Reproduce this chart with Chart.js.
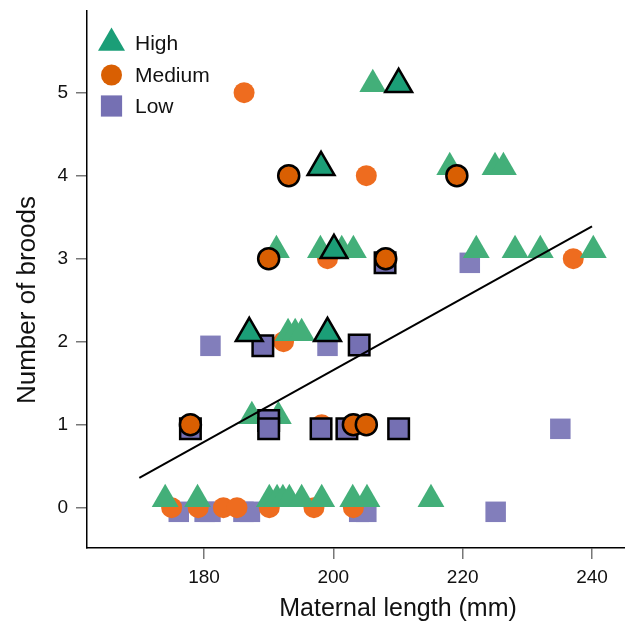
<!DOCTYPE html>
<html>
<head>
<meta charset="utf-8">
<script src="https://cdn.jsdelivr.net/npm/chart.js@4.4.1/dist/chart.umd.min.js"></script>
<style>
html, body { margin: 0; padding: 0; background: #fff; overflow: hidden; }
#wrap { width: 625px; height: 625px; }
</style>
</head>
<body>
<div id="wrap"><canvas id="c"></canvas></div>
<script>
// tick labels
var xTicks = [180, 200, 220, 240];
var yTicks = [0, 1, 2, 3, 4, 5];

// group names (legend) and axis titles
var groups = ['High', 'Medium', 'Low'];
var xTitle = 'Maternal length (mm)';
var yTitle = 'Number of broods';

// High (triangles), plain
var highX = [174, 179, 190.1, 191.3, 192.2, 193.2, 195.1, 198.2, 203, 205.2, 215.1,
             187.4, 191.5,
             193, 194.1, 195.1,
             191.2, 198, 201.3, 203.1, 222.1, 228.1, 232, 240.2,
             218, 225, 226.3,
             206.1];
var highY = [0.1, 0.1, 0.1, 0.1, 0.1, 0.1, 0.1, 0.1, 0.1, 0.1, 0.1,
             1.1, 1.1,
             2.1, 2.1, 2.1,
             3.1, 3.1, 3.1, 3.1, 3.1, 3.1, 3.1, 3.1,
             4.1, 4.1, 4.1,
             5.1];
// High, outlined
var highOutX = [187, 199.1, 200.1, 198.1, 210.1];
var highOutY = [2.1, 2.1, 3.1, 4.1, 5.1];

// Medium (circles), plain
var medX = [175, 179.1, 183, 185.1, 190.1, 197, 203.1, 198.2, 192.3, 199.1, 237.1, 205.1, 186.2];
var medY = [0, 0, 0, 0, 0, 0, 0, 1, 2, 3, 3, 4, 5];
// Medium, outlined
var medOutX = [177.9, 203.1, 205.1, 190, 208.1, 193.1, 219.1];
var medOutY = [1, 1, 1, 3, 3, 4, 4];

// Low (squares), plain
var lowX = [176.1, 180.1, 181, 186.1, 187.1, 204, 205.1, 225.1, 235.1, 181, 199.1, 221.1];
var lowY = [-0.05, -0.05, -0.05, -0.05, -0.05, -0.05, -0.05, -0.05, 0.95, 1.95, 1.95, 2.95];
// Low, outlined
var lowOutX = [177.9, 190, 190, 198.1, 202.1, 210.1, 189.1, 204, 208];
var lowOutY = [0.95, 1.05, 0.95, 0.95, 0.95, 0.95, 1.95, 1.96, 2.95];

// fitted line end points
var fitX = [170, 240];
var fitY = [0.36, 3.39];

function pts(xs, ys) {
    return xs.map(function(v, i) { return {x: v, y: ys[i]}; });
}

var fam = '"Liberation Sans", Arial, sans-serif';
var tickFont = {family: fam, size: 19};

// legend inside the plot (top-left) + axis titles, which sit off-centre
// in the original because its plot was cropped
var extras = {
    id: 'extras',
    afterDraw: function(chart) {
        var ctx = chart.ctx;
        var styles = [
            {pointStyle: 'triangle', radius: 15.6, color: '#1b9e77'},
            {pointStyle: 'circle', radius: 10.5, color: '#d95f02'},
            {pointStyle: 'rect', radius: 15, color: '#7570b3'}
        ];
        var rowsY = [43, 75, 106];
        ctx.save();
        groups.forEach(function(name, i) {
            ctx.fillStyle = styles[i].color;
            Chart.helpers.drawPoint(ctx, {pointStyle: styles[i].pointStyle, radius: styles[i].radius, rotation: 0, borderWidth: 0}, 111.5, rowsY[i]);
            ctx.fillStyle = '#111';
            ctx.font = '21px ' + fam;
            ctx.textBaseline = 'middle';
            ctx.textAlign = 'left';
            ctx.fillText(name, 135, rowsY[i] + 1);
        });

        ctx.fillStyle = '#111';
        ctx.textAlign = 'center';
        ctx.textBaseline = 'middle';
        ctx.font = '25px ' + fam;
        ctx.fillText(xTitle, 398, 609);

        ctx.translate(28, 300);
        ctx.rotate(-Math.PI / 2);
        ctx.font = '26px ' + fam;
        ctx.fillText(yTitle, 0, 0);
        ctx.restore();
    }
};

var ctx = document.getElementById('c');

var myChart = new Chart(ctx, {
    type: 'scatter',
    data: {
        datasets: [{
            type: 'line',
            label: 'fit',
            data: pts(fitX, fitY),
            borderColor: '#000',
            borderWidth: 2,
            pointRadius: 0,
            fill: false
        }, {
            label: 'High',
            data: pts(highOutX, highOutY),
            pointStyle: 'triangle',
            pointRadius: 15.5,
            backgroundColor: '#1b9e77',
            borderColor: '#000',
            borderWidth: 2.5
        }, {
            label: 'Medium',
            data: pts(medOutX, medOutY),
            pointStyle: 'circle',
            pointRadius: 10.5,
            backgroundColor: '#d95f02',
            borderColor: '#000',
            borderWidth: 2.5
        }, {
            label: 'Low',
            data: pts(lowOutX, lowOutY),
            pointStyle: 'rect',
            pointRadius: 14.5,
            backgroundColor: '#7570b3',
            borderColor: '#000',
            borderWidth: 2.5
        }, {
            label: 'High',
            data: pts(highX, highY),
            pointStyle: 'triangle',
            pointRadius: 15.5,
            backgroundColor: '#43af79',
            borderWidth: 0
        }, {
            label: 'Medium',
            data: pts(medX, medY),
            pointStyle: 'circle',
            pointRadius: 10.5,
            backgroundColor: '#ee6c1f',
            borderWidth: 0
        }, {
            label: 'Low',
            data: pts(lowX, lowY),
            pointStyle: 'rect',
            pointRadius: 14.5,
            backgroundColor: '#827ebb',
            borderWidth: 0
        }]
    },
    options: {
        responsive: true,
        maintainAspectRatio: false,
        animation: false,
        devicePixelRatio: 1,
        layout: {autoPadding: false, padding: {top: 11, left: 0, right: 0, bottom: 0}},
        plugins: {
            legend: {display: false},
            tooltip: {enabled: false}
        },
        scales: {
            x: {
                type: 'linear',
                min: 161.91,
                max: 245.1,
                afterBuildTicks: function(s) { s.ticks = xTicks.map(function(v) { return {value: v}; }); },
                afterFit: function(s) { s.height = 77; s.paddingLeft = 0; s.paddingRight = 0; },
                grid: {drawOnChartArea: false, drawTicks: true, tickLength: 11, color: '#777', lineWidth: 1.5},
                border: {display: true, color: '#000', width: 1.5},
                ticks: {color: '#111', font: tickFont, padding: 7, maxRotation: 0}
            },
            y: {
                type: 'linear',
                min: -0.486,
                max: 5.984,
                afterBuildTicks: function(s) { s.ticks = yTicks.map(function(v) { return {value: v}; }); },
                afterFit: function(s) { s.width = 87; s.paddingTop = 0; s.paddingBottom = 0; },
                grid: {drawOnChartArea: false, drawTicks: true, tickLength: 11, color: '#777', lineWidth: 1.5},
                border: {display: true, color: '#000', width: 1.5},
                ticks: {color: '#111', font: tickFont, padding: 8}
            }
        }
    },
    plugins: [extras]
});
</script>
</body>
</html>
